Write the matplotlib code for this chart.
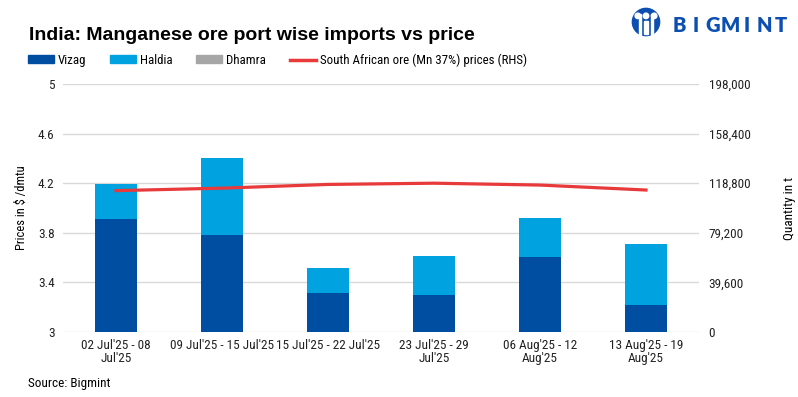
import matplotlib.pyplot as plt
from matplotlib.patches import Patch, Circle, Rectangle
from matplotlib.lines import Line2D
import numpy as np

plt.rcParams['font.family'] = ['Roboto Condensed', 'Liberation Sans Narrow', 'DejaVu Sans Condensed',
                               'Liberation Sans', 'DejaVu Sans']

# data
weeks = ["02 Jul'25 - 08\nJul'25", "09 Jul'25 - 15 Jul'25", "15 Jul'25 - 22 Jul'25",
         "23 Jul'25 - 29\nJul'25", "06 Aug'25 - 12\nAug'25", "13 Aug'25 - 19\nAug'25"]
vizag = [90200, 77400, 31000, 29400, 59800, 21400]
haldia = [28000, 61600, 20000, 31200, 31200, 48800]
dhamra = [0, 0, 0, 0, 0, 0]
sa_price = [4.14, 4.16, 4.19, 4.20, 4.185, 4.145]

left_ticks = [3, 3.4, 3.8, 4.2, 4.6, 5]
right_ticks = [0, 39600, 79200, 118800, 158400, 198000]

c_vizag = '#004EA2'
c_haldia = '#00A3E0'
c_dhamra = '#A6A6A6'
c_price = '#E8393B'
c_logo = '#0D4FB0'

fig = plt.figure(figsize=(7.98, 3.97), dpi=100)
ax = fig.add_axes([63 / 798, 1 - 332 / 397, 636 / 798, 248 / 397])
ax2 = ax.twinx()

x = np.arange(len(weeks))
ax2.bar(x, vizag, width=0.4, color=c_vizag)
ax2.bar(x, haldia, width=0.4, bottom=vizag, color=c_haldia)
ax2.bar(x, dhamra, width=0.4, bottom=np.add(vizag, haldia), color=c_dhamra)
ax2.set_ylim(0, 198000)
ax2.set_yticks(right_ticks)
ax2.set_yticklabels([f'{v:,}' for v in right_ticks])
ax2.set_ylabel('Quantity in t', fontsize=9.5)
ax2.yaxis.set_label_coords((783 - 63) / 636, 0.5)
ax2.grid(axis='y', color='#D9D9D9', lw=1)
ax2.set_axisbelow(True)

ax.plot(x, sa_price, color=c_price, lw=2.3)
ax.set_ylim(3, 5)
ax.set_yticks(left_ticks)
ax.set_yticklabels(['3', '3.4', '3.8', '4.2', '4.6', '5'])
ax.set_ylabel('Prices in $ /dmtu', fontsize=9)
ax.yaxis.set_label_coords((28 - 63) / 636, 0.5)
ax.set_xlim(-0.5, len(weeks) - 0.5)
ax.set_xticks(x)
ax.set_xticklabels(weeks, fontsize=9.5, linespacing=1.05)
ax.set_zorder(ax2.get_zorder() + 1)
ax.patch.set_visible(False)

for a in (ax, ax2):
    for s in a.spines.values():
        s.set_visible(False)
    a.tick_params(length=0, labelsize=9.5, colors='#222222')
ax.tick_params(axis='x', pad=5, labelsize=9.5)
ax.tick_params(axis='y', pad=6)
ax2.tick_params(axis='y', pad=7)

fig.text(29 / 798, 1 - 35 / 397, 'India: Manganese ore port wise imports vs price',
         fontsize=14, fontweight='bold', va='center', family=['Liberation Sans', 'DejaVu Sans'])
fig.text(28 / 798, 1 - 384 / 397, 'Source: Bigmint', fontsize=9.5, va='center')

# logo
for i, ch in enumerate('BIGMINT'):
    fig.text((679 + i * 17.0) / 798, 1 - 25 / 397, ch, fontsize=14.5, fontweight='heavy',
             color=c_logo, ha='center', va='center', family=['Lato', 'Liberation Sans'])
lax = fig.add_axes([630 / 798, 1 - 37 / 397, 32 / 798, 30 / 397])
lax.set_xlim(-1.1, 1.1)
lax.set_ylim(-1.1, 1.1)
lax.set_aspect('equal')
lax.axis('off')
lax.add_patch(Circle((0, 0), 1, color=c_logo))
for dx in (-0.45, 0.45):
    lax.add_patch(Rectangle((dx - 0.08, -1.0), 0.16, 1.6, color='white'))
for dx in (-0.6, 0, 0.6):
    lax.add_patch(Circle((dx, 0.45), 0.2, color='white'))
lax.add_patch(Rectangle((-0.12, -0.9), 0.24, 1.0, color='white'))

handles = [Patch(color=c_vizag), Patch(color=c_haldia), Patch(color=c_dhamra),
           Line2D([], [], color=c_price, lw=2.5)]
labels = ['Vizag', 'Haldia', 'Dhamra', 'South African ore (Mn 37%) prices (RHS)']
fig.legend(handles, labels, loc='center left', bbox_to_anchor=(28 / 798, 1 - 60 / 397), ncol=4,
           frameon=False, fontsize=9.3, handlelength=2.0, handleheight=0.5,
           handletextpad=0.3, columnspacing=1.85, borderpad=0, borderaxespad=0)

fig.savefig('out.png', dpi=100)
